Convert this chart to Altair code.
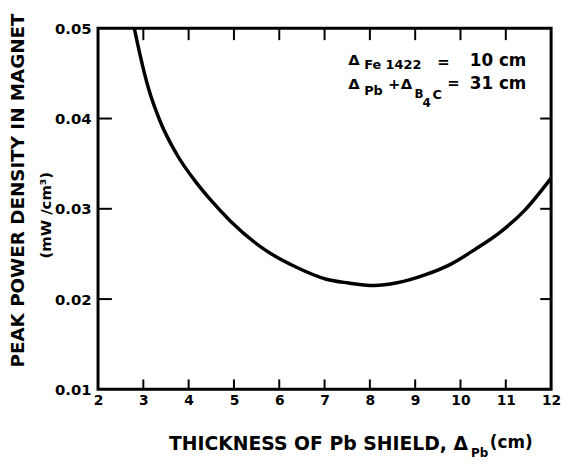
import altair as alt
import pandas as pd

# Curve
thickness = [2.8, 2.93, 3.11, 3.37, 3.73, 4.17, 4.5, 4.93, 5.67, 6.39, 7.04, 7.5, 8.1, 8.6, 9.23, 9.8, 10.32, 10.9, 11.41, 12.0]
power = [0.050, 0.0470, 0.0434, 0.0397, 0.0361, 0.0329, 0.0309, 0.0286, 0.0255, 0.0235, 0.0222, 0.0218, 0.0215, 0.0218, 0.0227, 0.0239, 0.0255, 0.0275, 0.0298, 0.0334]

x_labels = [2, 3, 4, 5, 6, 7, 8, 9, 10, 11, 12]
y_labels = [0.01, 0.02, 0.03, 0.04, 0.05]
x_ticks = [3, 4, 5, 6, 7, 8, 9, 10, 11]
y_ticks = [0.02, 0.03, 0.04]

W, H = 458, 365
FONT = "DejaVu Sans"

xs = alt.Scale(domain=[2, 12], nice=False, zero=False)
ys = alt.Scale(domain=[0.01, 0.05], nice=False, zero=False)

curve_df = pd.DataFrame({"thickness": thickness, "power": power})

curve = alt.Chart(curve_df).mark_line(
    color="black", strokeWidth=3.5, interpolate="monotone"
).encode(
    x=alt.X("thickness:Q", scale=xs, title=None,
            axis=alt.Axis(values=x_labels, ticks=False, domain=False, grid=False,
                          labelFont=FONT, labelFontWeight="bold", labelFontSize=14,
                          labelColor="black", labelPadding=4, labelFlush=False,
                          labelOverlap=False, title=None)),
    y=alt.Y("power:Q", scale=ys, title=None,
            axis=alt.Axis(values=y_labels, format=".2f", ticks=False, domain=False, grid=False,
                          labelFont=FONT, labelFontWeight="bold", labelFontSize=15,
                          labelColor="black", labelPadding=7, labelFlush=False,
                          labelOverlap=False, title=None)),
)

xt_df = pd.DataFrame({"thickness": x_ticks})
yt_df = pd.DataFrame({"power": y_ticks})

rule_style = dict(color="black", strokeWidth=2)
bottom_ticks = alt.Chart(xt_df).mark_rule(**rule_style).encode(
    x=alt.X("thickness:Q", scale=xs, title=None), y=alt.value(H), y2=alt.value(H - 10))
top_ticks = alt.Chart(xt_df).mark_rule(**rule_style).encode(
    x=alt.X("thickness:Q", scale=xs, title=None), y=alt.value(0), y2=alt.value(12))
left_ticks = alt.Chart(yt_df).mark_rule(**rule_style).encode(
    y=alt.Y("power:Q", scale=ys, title=None), x=alt.value(0), x2=alt.value(14))
right_ticks = alt.Chart(yt_df).mark_rule(**rule_style).encode(
    y=alt.Y("power:Q", scale=ys, title=None), x=alt.value(W), x2=alt.value(W - 11))


def label(text, x, y, size, align="left", angle=0):
    return alt.Chart(pd.DataFrame({"label": [text]})).mark_text(
        align=align, baseline="middle", font=FONT, fontWeight="bold",
        fontSize=size, angle=angle, color="black"
    ).encode(text="label:N", x=alt.value(x), y=alt.value(y))


texts = [
    # y-axis title
    label("PEAK POWER DENSITY IN MAGNET", -81, 164, 18.5, align="center", angle=270),
    label("(mW /cm³)", -53, 189, 15, align="center", angle=270),
    # x-axis title
    label("THICKNESS OF Pb SHIELD, Δ", 374, 420, 19, align="right"),
    label("Pb", 377, 429, 12),
    label("(cm)", 396, 419, 17),
    # annotation line 1
    label("Δ", 253, 32, 15),
    label("Fe 1422", 269, 37, 13),
    label("=", 343, 34, 15),
    label("10 cm", 433, 33, 17, align="right"),
    # annotation line 2
    label("Δ", 253, 56, 15),
    label("Pb", 269, 63, 13),
    label("+", 293, 56, 15),
    label("Δ", 306, 56, 15),
    label("B", 320, 67, 12),
    label("4", 328, 76, 12),
    label("C", 338, 68, 13),
    label("=", 353, 55, 15),
    label("31 cm", 433, 56, 17, align="right"),
]

chart = alt.layer(curve, bottom_ticks, top_ticks, left_ticks, right_ticks, *texts).properties(
    width=W, height=H,
    padding={"left": 91, "top": 18, "right": 10, "bottom": 74},
    autosize=alt.AutoSizeParams(type="none"),
    background="white",
).configure_view(stroke="black", strokeWidth=3)

chart.save("out.html", embed_options={"renderer": "svg", "actions": False})
